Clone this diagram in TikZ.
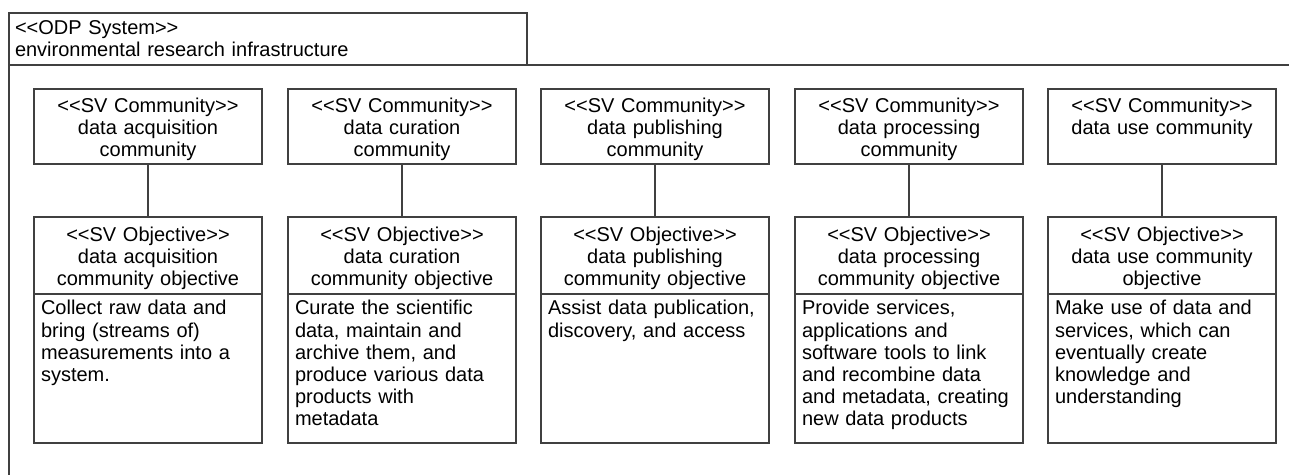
\documentclass[tikz,border=0pt]{standalone}
\usepackage{fontspec}
\setmainfont{Liberation Sans}
\usetikzlibrary{positioning}
\newcommand{\stereo}[1]{<\kern0pt<#1>\kern0pt>}

\begin{document}
\begin{tikzpicture}[x=0.5pt,y=-0.5pt,
		every node/.style={font=\fontsize{10}{11}\selectfont},
		umlline/.style={draw=black!75, line width=0.6pt},
		sysbox/.style={umlline, outer sep=0pt, anchor=north west, text width=253pt, inner xsep=3pt, inner ysep=0pt, align=left, text height=11pt, text depth=15pt},
		commbox/.style={umlline, outer sep=0pt, anchor=north west, text width=114pt, inner sep=0pt, align=center, text height=12pt, text depth=25.5pt},
		objbox/.style={umlline, outer sep=0pt, text width=114pt, inner sep=0pt, align=center, text height=12.5pt, text depth=26pt},
		descbox/.style={umlline, outer sep=0pt, text width=107pt, inner xsep=3.5pt, inner ysep=0pt, align=left, text height=10.5pt, text depth=64pt}]
		%%Location
		\useasboundingbox (0,0) rectangle (1289,475);
		%%Frame
		\node[sysbox] (sys) at (9,13) {\stereo{ODP System}\\environmental research infrastructure};
		\coordinate (framebottom) at (9,480);
		\coordinate (frameright) at (1295,65);
		\draw[umlline] (framebottom) -- (sys.south west) -- (frameright);
		
		%%Communities
		\node[commbox] (comm1) at (34,89) {\stereo{SV Community}\\data acquisition\\community};
		\node[commbox] (comm2) at (288,89) {\stereo{SV Community}\\data curation\\community};
		\node[commbox] (comm3) at (541,89) {\stereo{SV Community}\\data publishing\\community};
		\node[commbox] (comm4) at (795,89) {\stereo{SV Community}\\data processing\\community};
		\node[commbox] (comm5) at (1048,89) {\stereo{SV Community}\\data use community};
		
		%%Objectives
		\node[objbox, below=26.5pt of comm1] (obj1) {\stereo{SV Objective}\\data acquisition\\community objective};
		\node[objbox, below=26.5pt of comm2] (obj2) {\stereo{SV Objective}\\data curation\\community objective};
		\node[objbox, below=26.5pt of comm3] (obj3) {\stereo{SV Objective}\\data publishing\\community objective};
		\node[objbox, below=26.5pt of comm4] (obj4) {\stereo{SV Objective}\\data processing\\community objective};
		\node[objbox, below=26.5pt of comm5] (obj5) {\stereo{SV Objective}\\data use community\\objective};
		
		%%Descriptions
		\node[descbox, below=0pt of obj1] (desc1) {Collect raw data and\\bring (streams of)\\measurements into a\\system.};
		\node[descbox, below=0pt of obj2] (desc2) {Curate the scientific\\data, maintain and\\archive them, and\\produce various data\\products with\\metadata};
		\node[descbox, below=0pt of obj3] (desc3) {Assist data publication,\\discovery, and access};
		\node[descbox, below=0pt of obj4] (desc4) {Provide services,\\applications and\\software tools to link\\and recombine data\\and metadata, creating\\new data products};
		\node[descbox, below=0pt of obj5] (desc5) {Make use of data and\\services, which can\\eventually create\\knowledge and\\understanding};
		
		%%Links
		\draw[umlline] (comm1) -- (obj1);
		\draw[umlline] (comm2) -- (obj2);
		\draw[umlline] (comm3) -- (obj3);
		\draw[umlline] (comm4) -- (obj4);
		\draw[umlline] (comm5) -- (obj5);
		\end{tikzpicture}
\end{document}
